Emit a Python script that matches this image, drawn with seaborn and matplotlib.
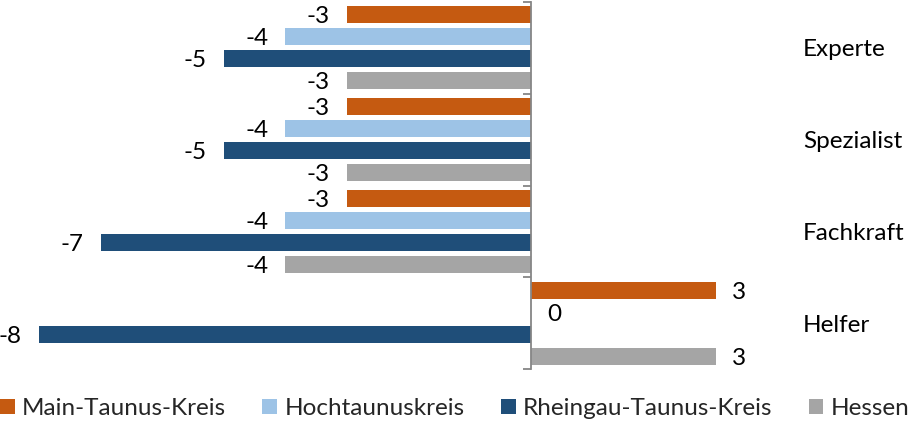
import matplotlib
matplotlib.use("Agg")
import matplotlib.pyplot as plt
import seaborn as sns
import pandas as pd
from matplotlib.patches import Patch

categories = ["Experte", "Spezialist", "Fachkraft", "Helfer"]
regions = ["Main-Taunus-Kreis", "Hochtaunuskreis", "Rheingau-Taunus-Kreis", "Hessen"]
main_taunus = [-3, -3, -3, 3]
hochtaunus = [-4, -4, -4, 0]
rheingau = [-5, -5, -7, -8]
hessen = [-3, -3, -4, 3]
colors = ["#C55A11", "#9DC3E6", "#1F4E79", "#A5A5A5"]

series = [main_taunus, hochtaunus, rheingau, hessen]
rows = []
for reg, vals in zip(regions, series):
    for cat, v in zip(categories, vals):
        rows.append({"Kategorie": cat, "Region": reg, "Wert": v})
df = pd.DataFrame(rows)

sns.set_style("white")
plt.rcParams["font.family"] = ["Lato", "DejaVu Sans"]
FS = 17.5

fig = plt.figure(figsize=(9.18, 4.21), dpi=100)
W, H = 918, 421
ax = fig.add_axes([0, 52 / H, 790 / W, 367 / H])

sns.barplot(data=df, y="Kategorie", x="Wert", hue="Region", order=categories,
            hue_order=regions, palette=colors, orient="h", width=0.96,
            ax=ax, legend=False, saturation=1, errorbar=None)

# thinner bars, keep centres
bar_h = 17 / 92
for p in ax.patches:
    c = p.get_y() + p.get_height() / 2
    p.set_height(bar_h)
    p.set_y(c - bar_h / 2)
    p.set_linewidth(0)

px = 61.55
zero_px = 531.4
ax.set_xlim(-zero_px / px, (790 - zero_px) / px)
ax.set_ylim(3.5, -0.5)

for s in ["top", "right", "bottom"]:
    ax.spines[s].set_visible(False)
ax.spines["left"].set_position(("data", 0))
ax.spines["left"].set_color("#868686")
ax.spines["left"].set_linewidth(1.3)
ax.set_xticks([])
ax.set_yticks([-0.5, 0.5, 1.5, 2.5, 3.5])
ax.set_yticklabels([])
ax.tick_params(axis="y", direction="out", length=6, width=1.3, color="#868686", left=True)
ax.set_xlabel("")
ax.set_ylabel("")

# value labels
for cont, vals in zip(ax.containers, series):
    for p, v in zip(cont, vals):
        yc = p.get_y() + p.get_height() / 2
        if v < 0:
            ax.annotate(f"{v}", (v, yc), xytext=(-17 * 0.72, 0), textcoords="offset points",
                        ha="right", va="center_baseline", fontsize=FS, color="black")
        else:
            ax.annotate(f"{v}", (v, yc), xytext=(16 * 0.72, 0), textcoords="offset points",
                        ha="left", va="center_baseline", fontsize=FS, color="black")

# category labels on the right
for i, cat in enumerate(categories):
    ax.text(803 / 790, i, cat, transform=ax.get_yaxis_transform(), ha="left",
            va="center_baseline", fontsize=FS, color="black", clip_on=False)

handles = [Patch(facecolor=c, edgecolor="none") for c in colors]
fig.legend(handles, regions, loc="lower left", bbox_to_anchor=(0, 2 / H), ncol=4,
           frameon=False, fontsize=FS, handlelength=0.6, handleheight=0.6,
           handletextpad=0.3, columnspacing=1.5, borderpad=0, borderaxespad=0)

fig.savefig("out.png", dpi=100)
